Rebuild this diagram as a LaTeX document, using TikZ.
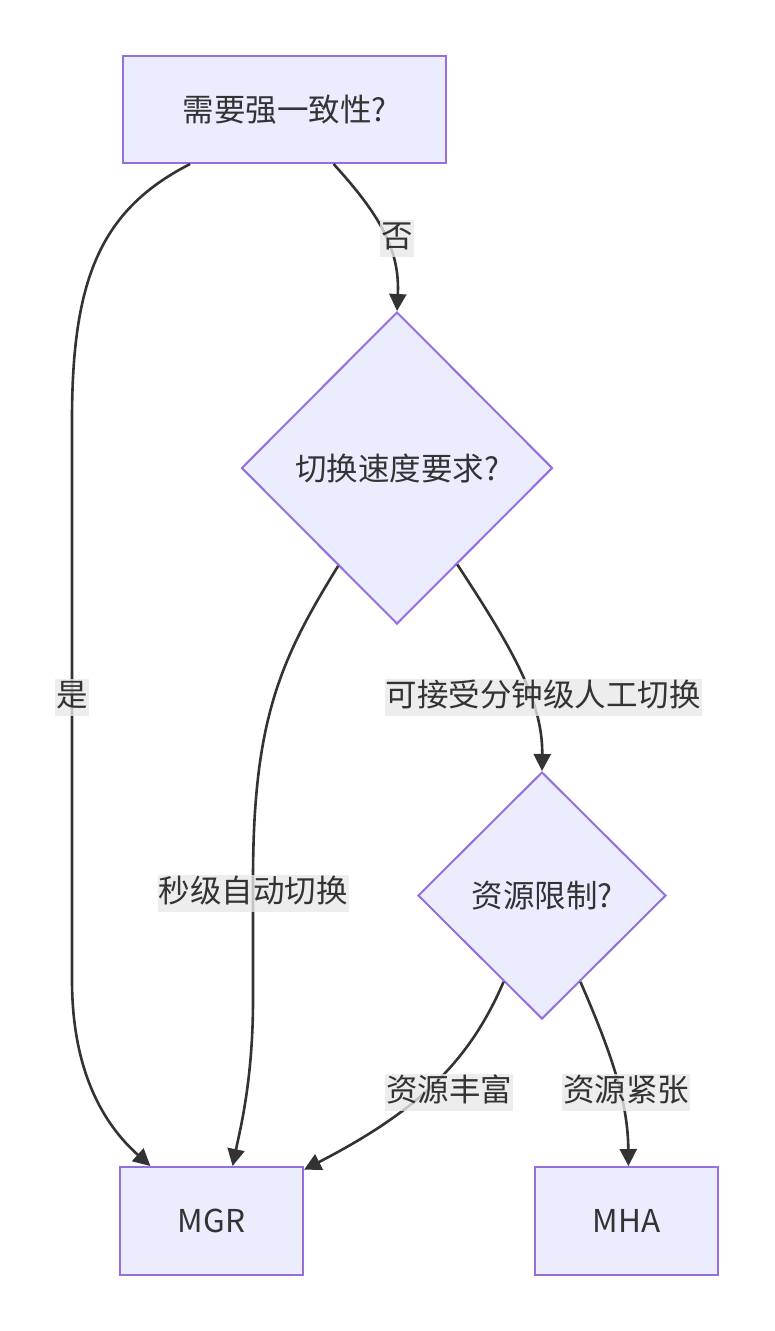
\documentclass[tikz,border=0pt]{standalone}
\usepackage{fontspec}
\setmainfont{Noto Sans CJK SC}
\usetikzlibrary{shapes.geometric,arrows.meta}
\definecolor{nodefill}{HTML}{ECECFF}
\definecolor{nodeline}{HTML}{9370DB}
\definecolor{edgecol}{HTML}{333333}
\definecolor{lblbg}{HTML}{E8E8E8}
\begin{document}
\begin{tikzpicture}[x=1pt,y=-1pt,
  font=\fontsize{31.5}{38}\selectfont, text=edgecol,
  boxnode/.style={draw=nodeline,fill=nodefill,line width=2pt,rectangle,inner sep=0pt},
  decnode/.style={draw=nodeline,fill=nodefill,line width=2pt,diamond,aspect=1,inner sep=0pt},
  edge/.style={draw=edgecol,line width=2.6pt,-{Triangle[length=17pt,width=17pt]}},
  lbl/.style={fill=lblbg,fill opacity=0.8,text opacity=1,inner sep=1pt,text height=27pt,text depth=8pt}]
\useasboundingbox (0,0) rectangle (774,1331);
\node[boxnode,minimum width=323pt,minimum height=107pt] (q1) at (284.5,109.5) {需要强一致性?};
\node[decnode,minimum width=311pt,minimum height=312pt] (q2) at (397,468) {切换速度要求?};
\node[decnode,minimum width=248pt,minimum height=247pt] (q3) at (542,895.5) {资源限制?};
\node[boxnode,minimum width=183pt,minimum height=108pt] (mgr) at (211.5,1221) {MGR};
\node[boxnode,minimum width=183pt,minimum height=108pt] (mha) at (626.5,1221) {MHA};

\draw[edge] (q1.210) .. controls (100,210) and (72,280) .. (72,420) -- (72,980) .. controls (72,1080) and (110,1130) .. (mgr.138);
\draw[edge] (q1.-48) .. controls (380,215) and (400,250) .. (q2.north);
\draw[edge] (q2.239) .. controls (280,660) and (253,720) .. (253,880) -- (253,1000) .. controls (253,1080) and (240,1130) .. (mgr.69);
\draw[edge] (q2.302) .. controls (510,645) and (543,700) .. (q3.north);
\draw[edge] (q3.246) .. controls (470,1060) and (420,1110) .. (mgr.29);
\draw[edge] (q3.294) .. controls (610,1050) and (628,1100) .. (mha.88);

\node[lbl] (l1) at (397,238) {否};
\node[lbl] (l2) at (72,697) {是};
\node[lbl] (l3) at (253,893) {秒级自动切换};
\node[lbl] (l4) at (543,697) {可接受分钟级人工切换};
\node[lbl] (l5) at (449,1092) {资源丰富};
\node[lbl] (l6) at (626,1092) {资源紧张};
\end{tikzpicture}
\end{document}
